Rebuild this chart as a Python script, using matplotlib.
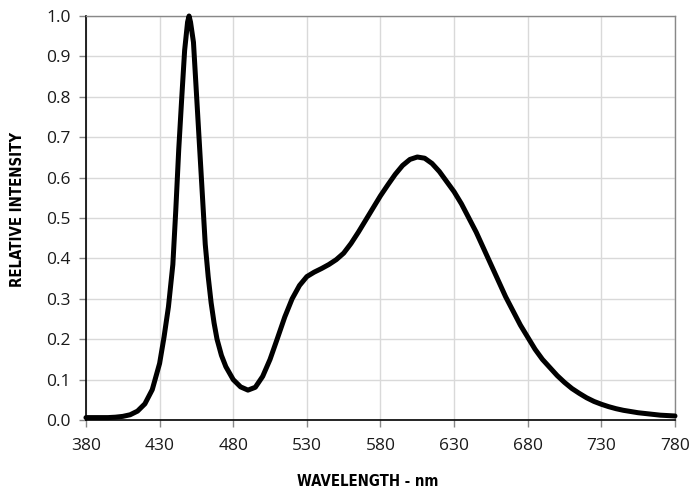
import matplotlib
matplotlib.use("Agg")
import matplotlib.pyplot as plt
from matplotlib import font_manager

wavelength = [380, 385, 390, 395, 400, 405, 410, 415, 420, 425, 430, 433, 436, 439, 441,
              443, 445, 447, 449, 450, 451, 453, 455, 457, 459, 461, 463, 465, 467, 469,
              472, 475, 480, 485, 490, 495, 500, 505, 510, 515, 520, 525, 530, 535, 540,
              545, 550, 555, 560, 565, 570, 575, 580, 585, 590, 595, 600, 605, 610, 615,
              620, 625, 630, 635, 640, 645, 650, 655, 660, 665, 670, 675, 680, 685, 690,
              695, 700, 705, 710, 715, 720, 725, 730, 735, 740, 745, 750, 755, 760, 765,
              770, 775, 780]
intensity = [0.006, 0.006, 0.006, 0.006, 0.007, 0.009, 0.013, 0.022, 0.040, 0.075, 0.140,
             0.205, 0.280, 0.385, 0.520, 0.670, 0.795, 0.915, 0.985, 1.000, 0.985, 0.935,
             0.810, 0.685, 0.560, 0.435, 0.355, 0.290, 0.240, 0.200, 0.160, 0.132, 0.100,
             0.082, 0.074, 0.081, 0.108, 0.150, 0.202, 0.255, 0.300, 0.333, 0.355, 0.366,
             0.375, 0.385, 0.397, 0.413, 0.437, 0.465, 0.495, 0.525, 0.555, 0.582, 0.608,
             0.630, 0.645, 0.651, 0.648, 0.635, 0.615, 0.590, 0.565, 0.535, 0.500, 0.465,
             0.425, 0.385, 0.345, 0.305, 0.270, 0.235, 0.205, 0.175, 0.150, 0.130, 0.110,
             0.093, 0.078, 0.066, 0.055, 0.046, 0.039, 0.033, 0.028, 0.024, 0.021, 0.018,
             0.016, 0.014, 0.012, 0.011, 0.010]

xticks = [380, 430, 480, 530, 580, 630, 680, 730, 780]
yticks = [0.0, 0.1, 0.2, 0.3, 0.4, 0.5, 0.6, 0.7, 0.8, 0.9, 1.0]

has_condensed = any(f.name == 'DejaVu Sans' and f.stretch == 'condensed'
                    for f in font_manager.fontManager.ttflist)
label_kw = dict(fontfamily='DejaVu Sans', fontstretch='condensed', fontweight='bold', fontsize=10.7) \
    if has_condensed else dict(fontfamily='Roboto', fontweight='bold', fontsize=10)

fig = plt.figure(figsize=(6.95, 4.97), dpi=100)
ax = fig.add_axes([0.1237, 0.1549, 0.8475, 0.8129])

ax.plot(wavelength, intensity, color='black', lw=3.6, solid_joinstyle='round',
        solid_capstyle='round', clip_on=False, zorder=3)

ax.set_xlim(380, 780)
ax.set_ylim(0, 1.0)
ax.set_xticks(xticks)
ax.set_yticks(yticks)
ax.set_xticklabels([str(v) for v in xticks], fontfamily='Open Sans', fontsize=12.5)
ax.set_yticklabels([f"{v:.1f}" for v in yticks], fontfamily='Open Sans', fontsize=12.5)
ax.grid(True, color='#d9d9d9', lw=1.0)
ax.set_axisbelow(True)

for s in ['top', 'right']:
    ax.spines[s].set_color('#888888')
    ax.spines[s].set_linewidth(1.0)
for s in ['left', 'bottom']:
    ax.spines[s].set_color('black')
    ax.spines[s].set_linewidth(1.2)

ax.tick_params(axis='both', direction='out', length=5, width=1, color='#888888', colors='#1a1a1a')
ax.tick_params(axis='x', pad=8)
ax.tick_params(axis='y', pad=6)

ax.set_xlabel('WAVELENGTH - nm', va='center', **label_kw)
ax.set_ylabel('RELATIVE INTENSITY', va='center', **label_kw)
ax.xaxis.set_label_coords(0.478, -0.153)
ax.yaxis.set_label_coords(-0.1163, 0.52)

fig.savefig('out.png', dpi=100)
